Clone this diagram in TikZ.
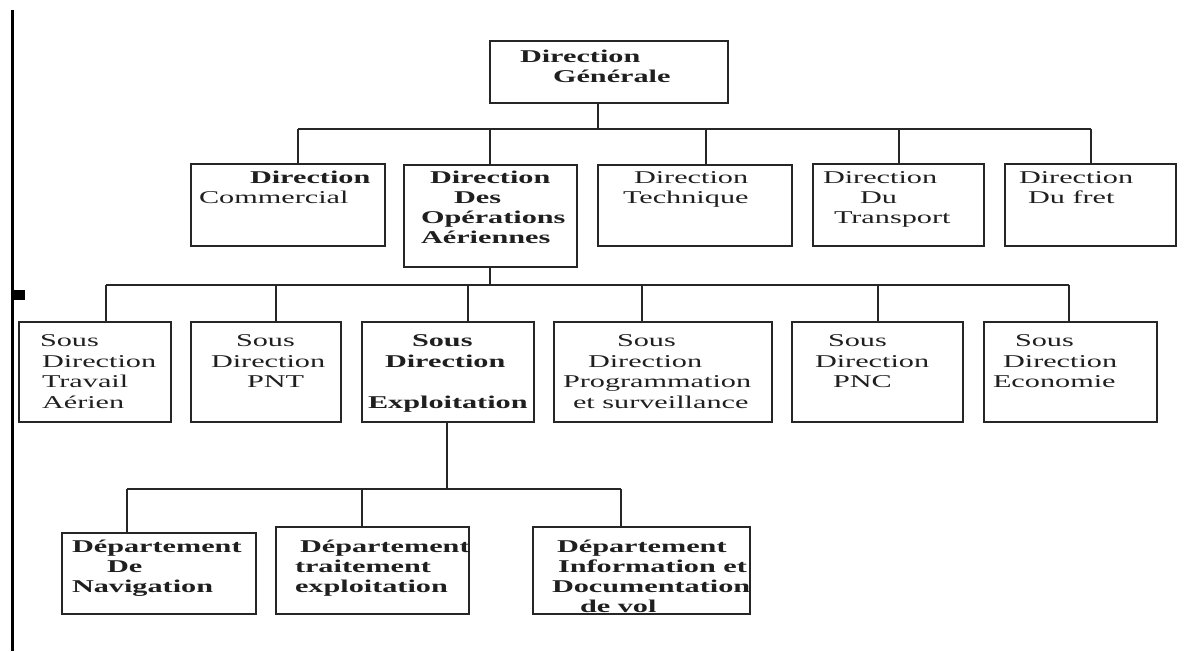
\documentclass[tikz,border=0pt]{standalone}
\usepackage{fontspec}
\setmainfont{Liberation Serif}[FakeStretch=1.68]
\begin{document}
\begin{tikzpicture}[x=1pt,y=-1pt,
  box/.style={draw=black!85, line width=1.6pt, rectangle, inner sep=0pt, outer sep=0pt},
  link/.style={draw=black!85, line width=1.5pt},
  txt/.style={anchor=base west, inner sep=0pt, outer sep=0pt, text=black!88, font=\fontsize{18}{20}\selectfont},
  btxt/.style={txt, font=\fontsize{18}{20}\selectfont\bfseries}]
\useasboundingbox (0,0) rectangle (1184,651);
% left margin rule and mark
\draw[line width=3pt, black] (12,10) -- (12,651);
\fill[black] (11,290) rectangle (25,300);
% boxes
\node[box, minimum width=238pt, minimum height=62pt] (dg) at (609,72) {};
\node[box, minimum width=194pt, minimum height=82pt] (com) at (288,205) {};
\node[box, minimum width=173pt, minimum height=102pt] (ope) at (490.5,216) {};
\node[box, minimum width=194pt, minimum height=81pt] (tec) at (695,205.5) {};
\node[box, minimum width=171pt, minimum height=82pt] (tra) at (898.5,205) {};
\node[box, minimum width=171pt, minimum height=82pt] (fre) at (1090.5,205) {};
\node[box, minimum width=152pt, minimum height=100pt] (sta) at (95,372) {};
\node[box, minimum width=150pt, minimum height=100pt] (pnt) at (266,372) {};
\node[box, minimum width=172pt, minimum height=100pt] (exp) at (448,372) {};
\node[box, minimum width=218pt, minimum height=100pt] (pro) at (663,372) {};
\node[box, minimum width=171pt, minimum height=100pt] (pnc) at (877.5,372) {};
\node[box, minimum width=173pt, minimum height=100pt] (eco) at (1070.5,372) {};
\node[box, minimum width=194pt, minimum height=81pt] (nav) at (159,573.5) {};
\node[box, minimum width=193pt, minimum height=87pt] (tre) at (372.5,570.5) {};
\node[box, minimum width=217pt, minimum height=87pt] (inf) at (641.5,570.5) {};
% level 1 connectors
\coordinate (j0) at (598,129);
\coordinate (j1) at (298,129);
\coordinate (j2) at (490,129);
\coordinate (j3) at (706,129);
\coordinate (j4) at (899,129);
\coordinate (j5) at (1091,129);
\draw[link] (j0 |- dg.south) -- (j0);
\draw[link] (j1) -- (j5);
\draw[link] (j1) -- (j1 |- com.north);
\draw[link] (j2) -- (j2 |- ope.north);
\draw[link] (j3) -- (j3 |- tec.north);
\draw[link] (j4) -- (j4 |- tra.north);
\draw[link] (j5) -- (j5 |- fre.north);
% level 2 connectors
\coordinate (k0) at (490,285);
\coordinate (k1) at (106,285);
\coordinate (k2) at (276,285);
\coordinate (k3) at (468,285);
\coordinate (k4) at (642,285);
\coordinate (k5) at (878,285);
\coordinate (k6) at (1069,285);
\draw[link] (k0 |- ope.south) -- (k0);
\draw[link] (k1) -- (k6);
\draw[link] (k1) -- (k1 |- sta.north);
\draw[link] (k2) -- (k2 |- pnt.north);
\draw[link] (k3) -- (k3 |- exp.north);
\draw[link] (k4) -- (k4 |- pro.north);
\draw[link] (k5) -- (k5 |- pnc.north);
\draw[link] (k6) -- (k6 |- eco.north);
% level 3 connectors
\coordinate (m0) at (447,489);
\coordinate (m1) at (127,489);
\coordinate (m2) at (362,489);
\coordinate (m3) at (621,489);
\draw[link] (m0 |- exp.south) -- (m0);
\draw[link] (m1) -- (m3);
\draw[link] (m1) -- (m1 |- nav.north);
\draw[link] (m2) -- (m2 |- tre.north);
\draw[link] (m3) -- (m3 |- inf.north);
% texts: Direction Generale
\node[btxt] (dg1) at (520,62) {Direction};
\node[btxt] (dg2) at (553,82) {Générale};
% row 2
\node[btxt] (com1) at (250,183) {Direction};
\node[txt] (com2) at (199,203) {Commercial};
\node[btxt] (ope1) at (430,183) {Direction};
\node[btxt] (ope2) at (454,203) {Des};
\node[btxt] (ope3) at (421,223) {Opérations};
\node[btxt] (ope4) at (421,243) {Aériennes};
\node[txt] (tec1) at (634,183) {Direction};
\node[txt] (tec2) at (623,203) {Technique};
\node[txt] (tra1) at (823,183) {Direction};
\node[txt] (tra2) at (860,203) {Du};
\node[txt] (tra3) at (834,223) {Transport};
\node[txt] (fre1) at (1019,183) {Direction};
\node[txt] (fre2) at (1028,203) {Du fret};
% row 3
\node[txt] (sta1) at (40,346) {Sous};
\node[txt] (sta2) at (42,367) {Direction};
\node[txt] (sta3) at (42,387) {Travail};
\node[txt] (sta4) at (42,408) {Aérien};
\node[txt] (pnt1) at (236,346) {Sous};
\node[txt] (pnt2) at (211,367) {Direction};
\node[txt] (pnt3) at (247,387) {PNT};
\node[btxt] (exp1) at (412,346) {Sous};
\node[btxt] (exp2) at (385,367) {Direction};
\node[btxt] (exp3) at (368,408) {Exploitation};
\node[txt] (pro1) at (617,346) {Sous};
\node[txt] (pro2) at (588,367) {Direction};
\node[txt] (pro3) at (563,387) {Programmation};
\node[txt] (pro4) at (573,408) {et surveillance};
\node[txt] (pnc1) at (828,346) {Sous};
\node[txt] (pnc2) at (815,367) {Direction};
\node[txt] (pnc3) at (833,387) {PNC};
\node[txt] (eco1) at (1015,346) {Sous};
\node[txt] (eco2) at (1003,367) {Direction};
\node[txt] (eco3) at (993,387) {Economie};
% row 4
\node[btxt] (nav1) at (72,552) {Département};
\node[btxt] (nav2) at (107,572) {De};
\node[btxt] (nav3) at (72,592) {Navigation};
\node[btxt] (tre1) at (300,552) {Département};
\node[btxt] (tre2) at (295,572) {traitement};
\node[btxt] (tre3) at (295,592) {exploitation};
\node[btxt] (inf1) at (557,552) {Département};
\node[btxt] (inf2) at (558,572) {Information et};
\node[btxt] (inf3) at (552,592) {Documentation};
\node[btxt] (inf4) at (580,612) {de vol};
\end{tikzpicture}
\end{document}
